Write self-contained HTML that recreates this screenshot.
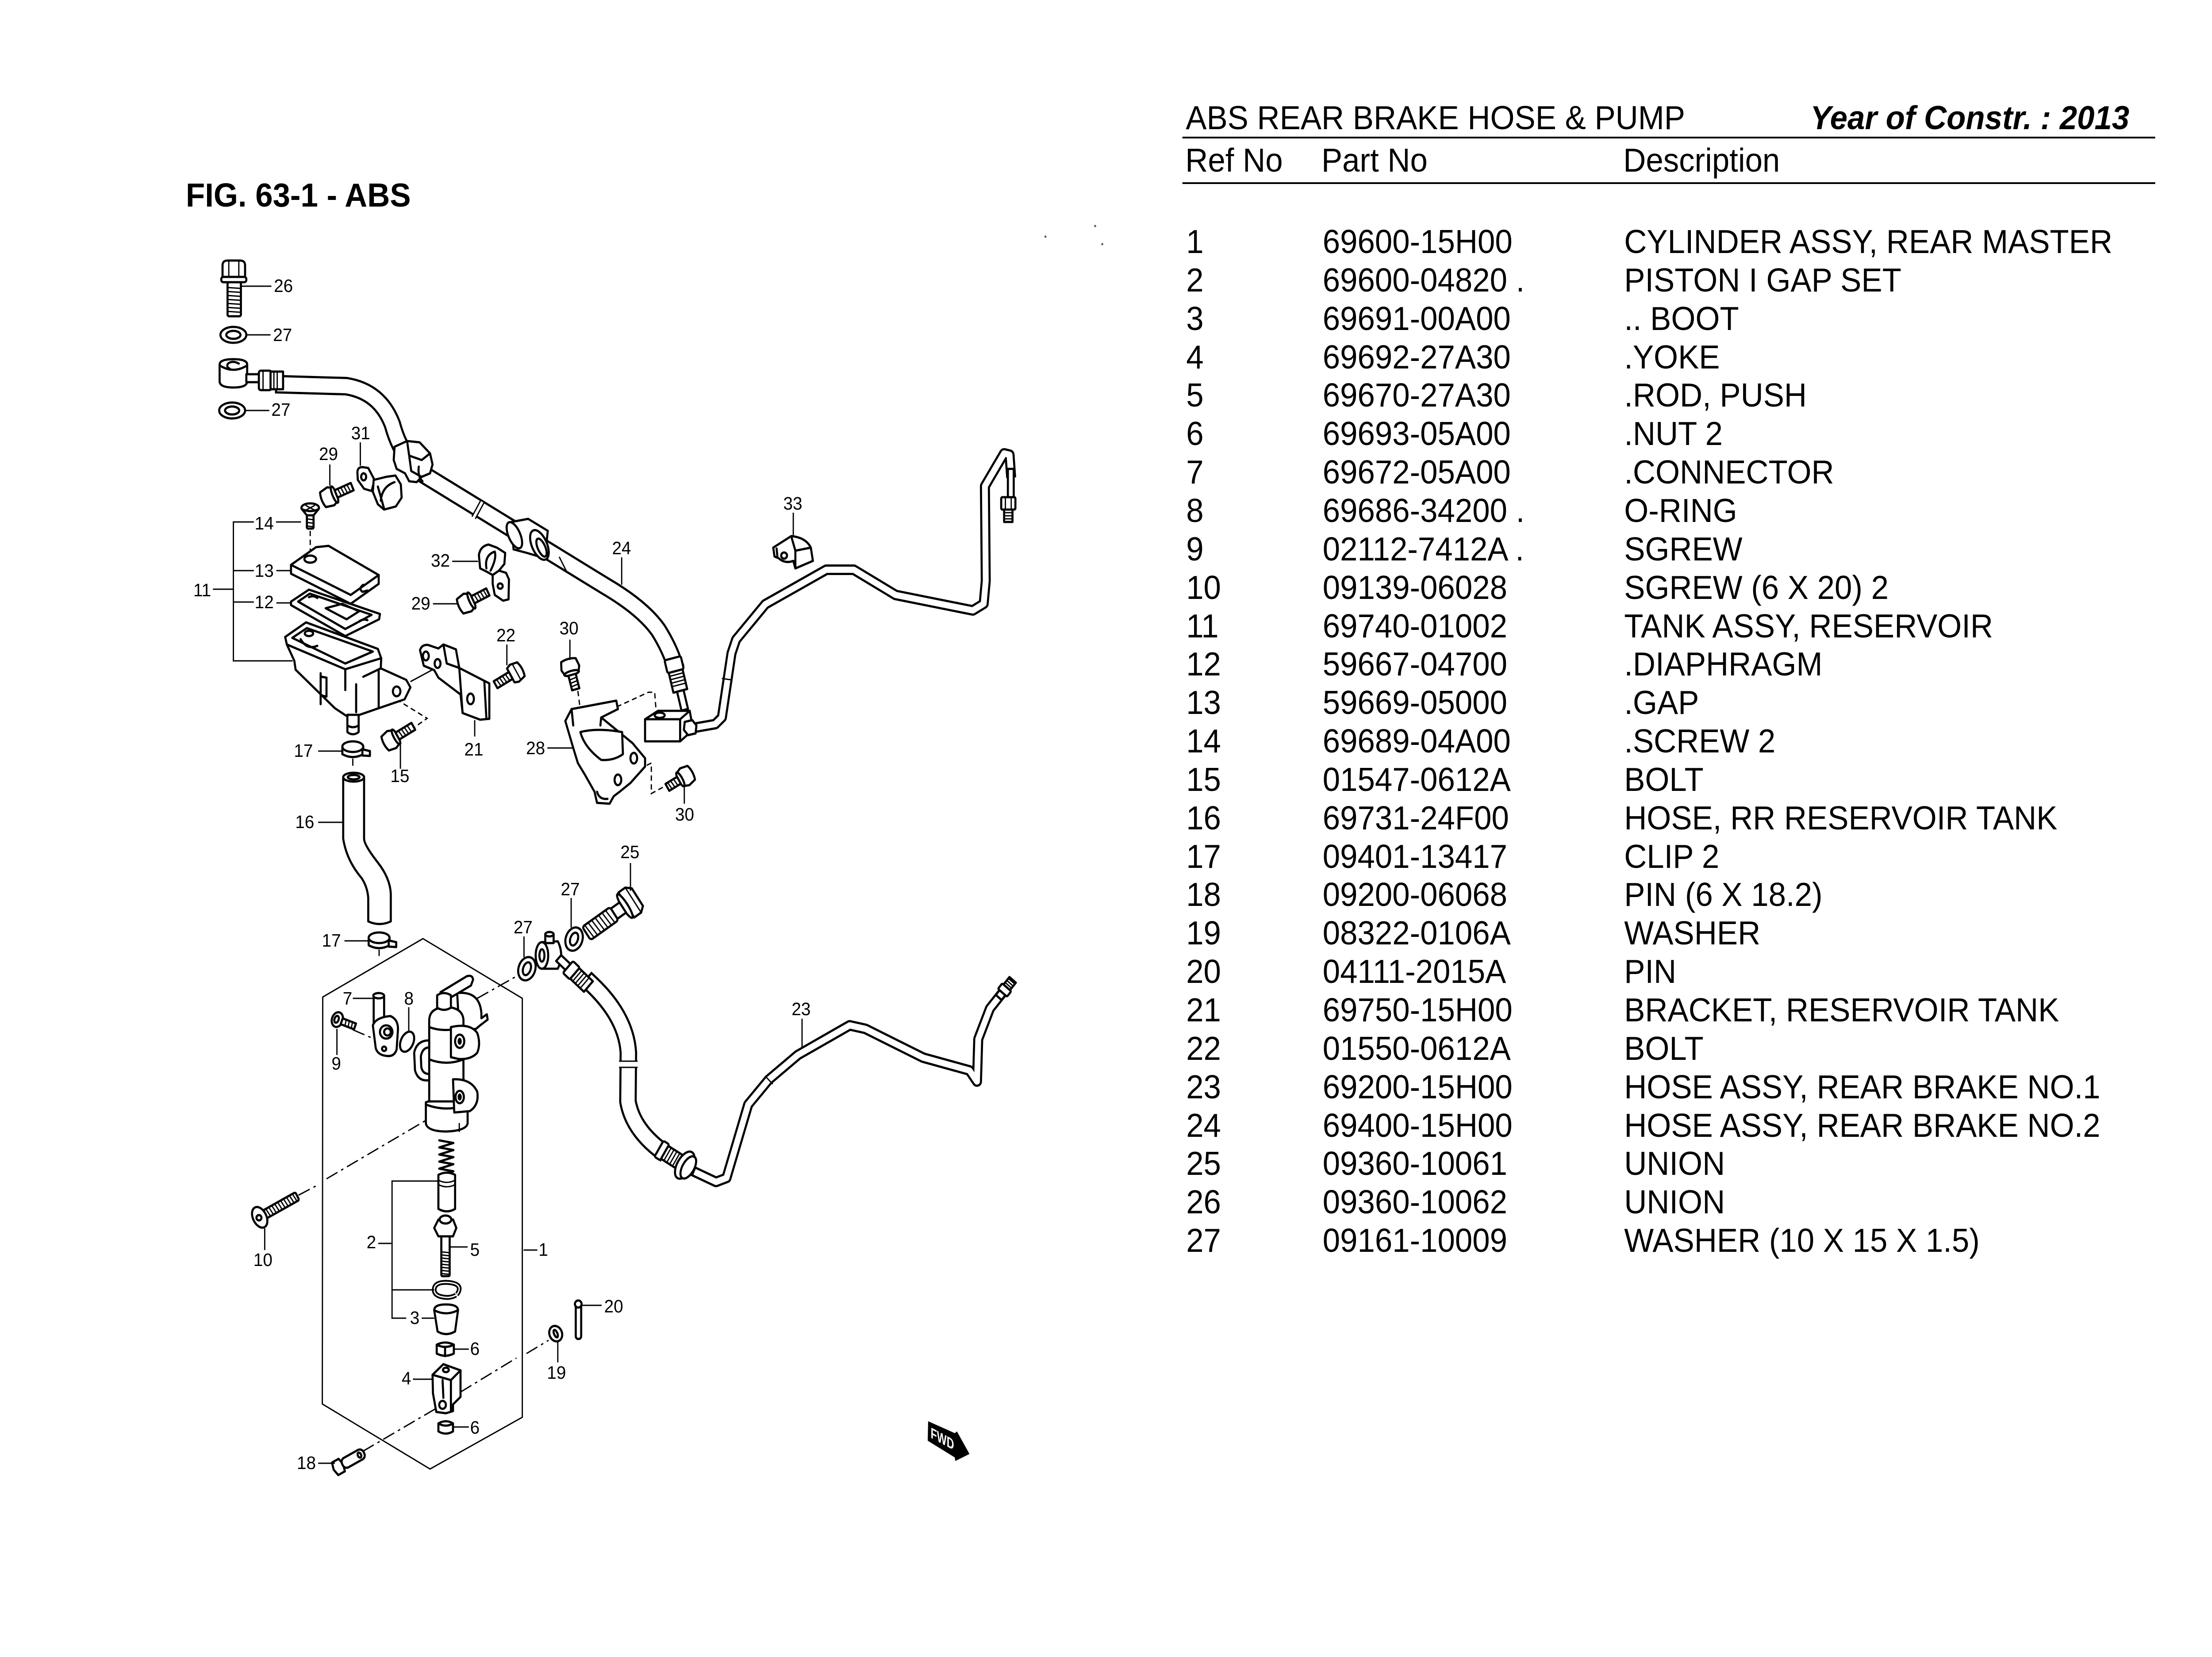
<!DOCTYPE html>
<html><head><meta charset="utf-8">
<style>
html,body{margin:0;padding:0;width:100%;height:100%;overflow:hidden;background:#fff;}
svg{position:absolute;left:0;top:0;width:100vw;height:100vh;display:block;}
.o{fill:#fff;stroke:#000;stroke-width:5;stroke-linejoin:round;stroke-linecap:round}
.n{fill:none;stroke:#000;stroke-width:5;stroke-linejoin:round;stroke-linecap:round}
.t3{fill:none;stroke:#000;stroke-width:3;stroke-linecap:round}
.l{fill:none;stroke:#000;stroke-width:3}
.dd{fill:none;stroke:#000;stroke-width:3;stroke-dasharray:30 10 6 10}
.ds{fill:none;stroke:#000;stroke-width:3;stroke-dasharray:12 8}
.lb{font-family:"Liberation Sans",Arial,sans-serif;font-size:41px;fill:#000}
.tb{font-family:"Liberation Sans",Arial,sans-serif;font-size:75px;fill:#000}
</style></head><body>
<svg viewBox="0 0 5298 3746" preserveAspectRatio="none" xmlns="http://www.w3.org/2000/svg">
<rect x="0" y="0" width="5298" height="3746" fill="#fff"/>

<!-- ===== TABLE ===== -->
<text class="tb" x="2840" y="292">ABS REAR BRAKE HOSE &amp; PUMP</text>
<text class="tb" x="5100" y="292" text-anchor="end" font-weight="bold" font-style="italic">Year of Constr. : 2013</text>
<rect x="2832" y="309" width="2330" height="4" fill="#000"/>
<text class="tb" x="2839" y="388">Ref No</text>
<text class="tb" x="3165" y="388">Part No</text>
<text class="tb" x="3888" y="388">Description</text>
<rect x="2832" y="412" width="2330" height="4" fill="#000"/>

<g>
<text class="tb" x="2841" y="572">1</text><text class="tb" x="3168" y="572">69600-15H00</text><text class="tb" x="3890" y="572">CYLINDER ASSY, REAR MASTER</text>
<text class="tb" x="2841" y="659">2</text><text class="tb" x="3168" y="659">69600-04820 .</text><text class="tb" x="3890" y="659">PISTON I GAP SET</text>
<text class="tb" x="2841" y="746">3</text><text class="tb" x="3168" y="746">69691-00A00</text><text class="tb" x="3890" y="746">.. BOOT</text>
<text class="tb" x="2841" y="833">4</text><text class="tb" x="3168" y="833">69692-27A30</text><text class="tb" x="3890" y="833">.YOKE</text>
<text class="tb" x="2841" y="919">5</text><text class="tb" x="3168" y="919">69670-27A30</text><text class="tb" x="3890" y="919">.ROD, PUSH</text>
<text class="tb" x="2841" y="1006">6</text><text class="tb" x="3168" y="1006">69693-05A00</text><text class="tb" x="3890" y="1006">.NUT 2</text>
<text class="tb" x="2841" y="1093">7</text><text class="tb" x="3168" y="1093">69672-05A00</text><text class="tb" x="3890" y="1093">.CONNECTOR</text>
<text class="tb" x="2841" y="1180">8</text><text class="tb" x="3168" y="1180">69686-34200 .</text><text class="tb" x="3890" y="1180">O-RING</text>
<text class="tb" x="2841" y="1267">9</text><text class="tb" x="3168" y="1267">02112-7412A .</text><text class="tb" x="3890" y="1267">SGREW</text>
<text class="tb" x="2841" y="1354">10</text><text class="tb" x="3168" y="1354">09139-06028</text><text class="tb" x="3890" y="1354">SGREW (6 X 20) 2</text>
<text class="tb" x="2841" y="1441">11</text><text class="tb" x="3168" y="1441">69740-01002</text><text class="tb" x="3890" y="1441">TANK ASSY, RESERVOIR</text>
<text class="tb" x="2841" y="1527">12</text><text class="tb" x="3168" y="1527">59667-04700</text><text class="tb" x="3890" y="1527">.DIAPHRAGM</text>
<text class="tb" x="2841" y="1614">13</text><text class="tb" x="3168" y="1614">59669-05000</text><text class="tb" x="3890" y="1614">.GAP</text>
<text class="tb" x="2841" y="1701">14</text><text class="tb" x="3168" y="1701">69689-04A00</text><text class="tb" x="3890" y="1701">.SCREW 2</text>
<text class="tb" x="2841" y="1788">15</text><text class="tb" x="3168" y="1788">01547-0612A</text><text class="tb" x="3890" y="1788">BOLT</text>
<text class="tb" x="2841" y="1875">16</text><text class="tb" x="3168" y="1875">69731-24F00</text><text class="tb" x="3890" y="1875">HOSE, RR RESERVOIR TANK</text>
<text class="tb" x="2841" y="1962">17</text><text class="tb" x="3168" y="1962">09401-13417</text><text class="tb" x="3890" y="1962">CLIP 2</text>
<text class="tb" x="2841" y="2048">18</text><text class="tb" x="3168" y="2048">09200-06068</text><text class="tb" x="3890" y="2048">PIN (6 X 18.2)</text>
<text class="tb" x="2841" y="2135">19</text><text class="tb" x="3168" y="2135">08322-0106A</text><text class="tb" x="3890" y="2135">WASHER</text>
<text class="tb" x="2841" y="2222">20</text><text class="tb" x="3168" y="2222">04111-2015A</text><text class="tb" x="3890" y="2222">PIN</text>
<text class="tb" x="2841" y="2309">21</text><text class="tb" x="3168" y="2309">69750-15H00</text><text class="tb" x="3890" y="2309">BRACKET, RESERVOIR TANK</text>
<text class="tb" x="2841" y="2396">22</text><text class="tb" x="3168" y="2396">01550-0612A</text><text class="tb" x="3890" y="2396">BOLT</text>
<text class="tb" x="2841" y="2483">23</text><text class="tb" x="3168" y="2483">69200-15H00</text><text class="tb" x="3890" y="2483">HOSE ASSY, REAR BRAKE NO.1</text>
<text class="tb" x="2841" y="2570">24</text><text class="tb" x="3168" y="2570">69400-15H00</text><text class="tb" x="3890" y="2570">HOSE ASSY, REAR BRAKE NO.2</text>
<text class="tb" x="2841" y="2656">25</text><text class="tb" x="3168" y="2656">09360-10061</text><text class="tb" x="3890" y="2656">UNION</text>
<text class="tb" x="2841" y="2743">26</text><text class="tb" x="3168" y="2743">09360-10062</text><text class="tb" x="3890" y="2743">UNION</text>
<text class="tb" x="2841" y="2830">27</text><text class="tb" x="3168" y="2830">09161-10009</text><text class="tb" x="3890" y="2830">WASHER (10 X 15 X 1.5)</text>
</g>

<!-- ===== FIG TITLE ===== -->
<text class="tb" x="445" y="467" font-weight="bold">FIG. 63-1 - ABS</text>

<!-- noise dots -->
<circle cx="2504" cy="535" r="2.5" fill="#555"/>
<circle cx="2623" cy="511" r="2.5" fill="#555"/>
<circle cx="2640" cy="552" r="2.5" fill="#555"/>

<!-- ===== CYLINDER BOX ===== -->
<path class="l" d="M1013,2122 L1251,2257 L1251,3204 L1030,3321 L772,3174 L773,2254 Z"/>

<!-- ===== DASHED LINES ===== -->
<path class="dd" d="M1143,2257 L1237,2207"/>
<path class="dd" d="M845,2328 L902,2351"/>
<path class="dd" d="M715,2702 L765,2677 M782,2665 L1090,2494"/>
<path class="dd" d="M869,3281 L1050,3181"/>
<path class="dd" d="M1103,3147 L1237,3070 M1261,3060 L1314,3030"/>
<path class="ds" d="M932,1571 L1023,1624 L993,1644"/>
<path class="ds" d="M743,1200 L743,1257"/>
<path class="ds" d="M1384,1562 L1392,1620"/>
<path class="ds" d="M1361,1622 L1415,1622"/>
<path class="ds" d="M1422,1622 L1553,1565 L1568,1565 L1572,1614"/>
<path class="ds" d="M1495,1756 L1560,1725 L1560,1794 L1597,1775"/>

<!-- ===== HOSES / PIPES ===== -->
<path d="M680,869 L829,873 Q910,885 940,960 Q960,1030 1010,1070 L1450,1325 Q1540,1375 1577,1425 Q1600,1460 1612,1492" fill="none" stroke="#000" stroke-width="42" stroke-linejoin="round" stroke-linecap="square"/>
<path d="M680,869 L829,873 Q910,885 940,960 Q960,1030 1010,1070 L1450,1325 Q1540,1375 1577,1425 Q1600,1460 1612,1492" fill="none" stroke="#fff" stroke-width="32" stroke-linejoin="round" stroke-linecap="square"/>
<path d="M1131,1167 L1151,1132 L1159,1137 L1139,1172 Z" fill="#fff" stroke="none"/>
<path class="t3" d="M1131,1167 L1151,1132 M1139,1172 L1159,1137"/>
<path class="t3" d="M1340,1260 L1356,1290"/>

<path d="M1665,1645 L1713,1637 L1729,1622 L1752,1477 L1763,1446 L1833,1366 L1979,1288 L2045,1288 L2145,1345 L2330,1380 L2356,1365 L2361,1313 L2359,1099 L2405,1025 L2418,1028 L2421,1068" fill="none" stroke="#000" stroke-width="24" stroke-linejoin="round" stroke-linecap="square"/>
<path d="M1665,1645 L1713,1637 L1729,1622 L1752,1477 L1763,1446 L1833,1366 L1979,1288 L2045,1288 L2145,1345 L2330,1380 L2356,1365 L2361,1313 L2359,1099 L2405,1025 L2418,1028 L2421,1068" fill="none" stroke="#fff" stroke-width="14" stroke-linejoin="round" stroke-linecap="square"/>
<path class="t3" d="M1730,1534 L1752,1537"/>

<path d="M1418,2226 Q1500,2300 1505,2380 L1504,2490 Q1515,2550 1578,2597" fill="none" stroke="#000" stroke-width="42" stroke-linejoin="round" stroke-linecap="square"/>
<path d="M1418,2226 Q1500,2300 1505,2380 L1504,2490 Q1515,2550 1578,2597" fill="none" stroke="#fff" stroke-width="32" stroke-linejoin="round" stroke-linecap="square"/>
<rect x="1480" y="2400" width="50" height="12" fill="#fff"/>
<path class="t3" d="M1484,2399 L1526,2399 M1484,2413 L1526,2413"/>

<path d="M1670,2652 L1715,2672 L1740,2663 L1792,2497 L1841,2441 L1911,2385 L2035,2318 L2073,2326 L2211,2391 L2322,2420 L2340,2445 L2343,2349 L2371,2280 L2392,2255" fill="none" stroke="#000" stroke-width="24" stroke-linejoin="round" stroke-linecap="square"/>
<path d="M1670,2652 L1715,2672 L1740,2663 L1792,2497 L1841,2441 L1911,2385 L2035,2318 L2073,2326 L2211,2391 L2322,2420 L2340,2445 L2343,2349 L2371,2280 L2392,2255" fill="none" stroke="#fff" stroke-width="14" stroke-linejoin="round" stroke-linecap="square"/>
<path class="t3" d="M1834,2434 L1850,2450"/>

<!-- ===== PARTS TOP ===== -->
<path class="o" d="M533,600 Q533,589 545,589 L575,589 Q587,589 587,600 L587,628 L533,628 Z"/>
<path class="t3" d="M548,591 L548,627 M572,591 L572,627"/>
<rect class="o" x="530" y="626" width="60" height="12" rx="5"/>
<rect class="o" x="545" y="638" width="32" height="77" rx="4"/>
<path class="t3" d="M545,650 L577,652 M545,659 L577,661 M545,668 L577,670 M545,677 L577,679 M545,686 L577,688 M545,695 L577,697 M545,704 L577,706"/>
<ellipse class="o" cx="559" cy="757" rx="31" ry="18"/><ellipse class="n" cx="559" cy="757" rx="17" ry="9"/>
<ellipse class="o" cx="556" cy="928" rx="31" ry="18"/><ellipse class="n" cx="556" cy="928" rx="17" ry="9"/>
<path class="o" d="M526,824 Q526,812 559,812 Q592,812 592,824 L592,862 Q592,876 559,876 Q526,876 526,862 Z"/>
<path class="n" d="M526,826 Q559,846 592,826"/>
<path class="n" d="M572,822 Q557,814 546,822 Q541,830 551,834"/>
<rect class="o" x="590" y="846" width="32" height="18"/>
<rect class="o" x="620" y="838" width="30" height="44" rx="5"/>
<rect class="o" x="648" y="840" width="30" height="40"/>
<path class="t3" d="M656,840 L656,880 M664,840 L664,880 M630,840 L630,880"/>

<path class="o" d="M945,1010 L975,997 L1005,1000 L1030,1025 L1036,1050 L1030,1070 L1010,1078 L998,1090 L980,1088 L970,1070 L950,1060 L943,1040 Z"/>
<path class="n" d="M975,997 L980,1030 L1010,1040 L1030,1025 M980,1030 L985,1065 L1010,1078"/>
<path class="n" d="M1003,1055 Q1000,1078 1012,1088"/>

<path class="o" d="M1225,1180 L1265,1173 L1312,1200 L1305,1262 L1262,1250 L1230,1242 Z"/>
<ellipse class="o" cx="1232" cy="1210" rx="14" ry="32" transform="rotate(-25 1232 1210)"/>
<ellipse class="o" cx="1292" cy="1232" rx="18" ry="36" transform="rotate(-25 1292 1232)"/>
<ellipse class="n" cx="1297" cy="1238" rx="9" ry="22" transform="rotate(-25 1297 1238)"/>

<path class="o" d="M856,1068 Q856,1056 868,1056 L882,1058 L897,1085 L890,1110 L872,1105 L857,1085 Z"/>
<ellipse class="n" cx="871" cy="1078" rx="6" ry="8"/>
<path class="o" d="M895,1085 L925,1078 L947,1075 L960,1095 L962,1125 L948,1145 L920,1152 L905,1140 L893,1112 Z"/>
<path class="n" d="M912,1132 Q915,1100 945,1090 M905,1100 L920,1150"/>

<g transform="translate(792,1122) rotate(-23)">
<path class="o" d="M-20,-18 L0,-22 L8,-18 L8,18 L0,22 L-20,18 Q-26,0 -20,-18 Z"/>
<ellipse class="o" cx="10" cy="0" rx="5" ry="20"/>
<rect class="o" x="14" y="-9" width="42" height="18"/>
<path class="t3" d="M22,-9 L24,9 M30,-9 L32,9 M38,-9 L40,9 M46,-9 L48,9"/>
</g>

<ellipse class="o" cx="743" cy="1148" rx="21" ry="10"/>
<path class="t3" d="M733,1143 L753,1153 M753,1143 L733,1153"/>
<path class="o" d="M723,1151 L735,1165 L751,1165 L763,1151 Q743,1160 723,1151 Z"/>
<rect class="o" x="735" y="1165" width="16" height="30" rx="3"/>
<path class="t3" d="M735,1173 L751,1175 M735,1181 L751,1183 M735,1189 L751,1191"/>

<path class="o" d="M1147,1255 Q1150,1235 1170,1231 L1190,1238 L1210,1250 L1208,1275 L1195,1290 L1212,1295 L1219,1310 L1218,1355 L1205,1358 L1185,1345 L1180,1320 L1180,1300 L1165,1292 L1150,1285 Z"/>
<path class="n" d="M1165,1285 Q1160,1255 1185,1247 Q1190,1262 1175,1290 M1180,1300 L1195,1290"/>
<circle class="n" cx="1198" cy="1325" r="6"/>

<g transform="translate(1120,1362) rotate(-26)">
<path class="o" d="M-20,-18 L0,-22 L8,-18 L8,18 L0,22 L-20,18 Q-26,0 -20,-18 Z"/>
<ellipse class="o" cx="10" cy="0" rx="5" ry="20"/>
<rect class="o" x="14" y="-9" width="40" height="18"/>
<path class="t3" d="M22,-9 L24,9 M30,-9 L32,9 M38,-9 L40,9 M46,-9 L48,9"/>
</g>

<path class="o" d="M1852,1238 L1895,1212 Q1930,1215 1942,1238 L1947,1268 L1905,1285 L1900,1268 Q1880,1275 1865,1262 L1855,1258 Z"/>
<path class="n" d="M1895,1212 L1905,1245 L1905,1285 M1905,1245 L1942,1238"/>
<circle class="n" cx="1878" cy="1256" r="7"/>
<path class="n" d="M1860,1240 L1862,1258"/>

<path class="o" d="M683,1440 L733,1407 L905,1467 L913,1488 L912,1511 L973,1537 L983,1554 L969,1581 L855,1618 L829,1618 L802,1601 L708,1514 L705,1494 L687,1457 Z"/>
<path class="n" d="M687,1457 L827,1513 L913,1488"/>
<path class="n" d="M700,1442 L735,1420 L893,1473 L827,1500 Z"/>
<path class="n" d="M768,1522 L768,1592 M853,1547 L853,1610 M907,1513 L907,1598 M827,1513 L827,1560 M912,1511 L870,1530"/>
<path class="n" d="M770,1530 L782,1532 L782,1575 L770,1572"/>
<ellipse class="n" cx="950" cy="1563" rx="9" ry="11"/>
<ellipse class="n" cx="740" cy="1432" rx="10" ry="6"/>
<path class="n" d="M720,1445 Q735,1470 760,1460"/>
<path class="o" d="M832,1616 L832,1655 Q845,1665 859,1655 L859,1616 Z"/>
<path class="n" d="M832,1640 Q845,1648 859,1640"/>
<path class="l" d="M983,1541 L1036,1514"/>

<path class="o" d="M697,1360 L740,1333 L910,1388 L908,1400 L827,1438 L697,1368 Z"/>
<path class="n" d="M714,1360 L742,1342 L890,1390 L827,1422 Z"/>
<path class="n" d="M780,1375 L820,1365 L860,1382 L830,1400 Z M740,1350 Q752,1345 760,1352 M860,1405 Q870,1398 880,1402"/>

<path class="o" d="M697,1277 L757,1237 L787,1234 L907,1300 L907,1320 L840,1365 L697,1297 Z"/>
<path class="n" d="M697,1277 L840,1345 L907,1300"/>
<ellipse class="n" cx="743" cy="1264" rx="14" ry="8"/>
<path class="n" d="M870,1322 Q858,1330 868,1338 L880,1335"/>

<path class="o" d="M1006,1470 Q1010,1457 1025,1458 L1050,1466 L1062,1457 L1092,1468 L1100,1510 L1172,1545 L1172,1625 L1150,1627 L1108,1612 L1103,1570 L1050,1532 L1040,1515 L1015,1505 Z"/>
<path class="n" d="M1062,1457 L1070,1500 L1100,1510 M1100,1510 L1108,1612 M1160,1540 L1165,1625"/>
<ellipse class="n" cx="1020" cy="1483" rx="7" ry="10"/>
<ellipse class="n" cx="1048" cy="1500" rx="7" ry="10"/>
<ellipse class="n" cx="1127" cy="1580" rx="8" ry="12"/>

<g transform="translate(1232,1522) rotate(150)">
<path class="o" d="M-18,-18 L0,-22 L10,-18 L10,18 L0,22 L-18,18 Q-24,0 -18,-18 Z"/>
<path class="t3" d="M-6,-20 L-6,20"/>
<rect class="o" x="10" y="-9" width="42" height="18"/>
<path class="t3" d="M18,-9 L20,9 M26,-9 L28,9 M34,-9 L36,9 M42,-9 L44,9"/>
</g>

<g transform="translate(938,1672) rotate(-30)">
<path class="o" d="M-18,-18 L0,-22 L10,-18 L10,18 L0,22 L-18,18 Q-24,0 -18,-18 Z"/>
<ellipse class="o" cx="12" cy="0" rx="5" ry="19"/>
<rect class="o" x="16" y="-9" width="44" height="18"/>
<path class="t3" d="M24,-9 L26,9 M32,-9 L34,9 M40,-9 L42,9 M48,-9 L50,9"/>
</g>

<path class="o" d="M1354,1630 L1369,1603 L1476,1584 L1480,1603 L1440,1622 L1515,1680 L1545,1714 L1545,1733 L1510,1770 L1484,1790 L1470,1800 L1460,1817 L1430,1815 L1424,1790 L1400,1750 L1384,1725 L1373,1691 Z"/>
<path class="o" d="M1390,1655 Q1430,1645 1490,1655 L1492,1705 Q1470,1720 1440,1718 Q1400,1690 1390,1655 Z"/>
<path class="n" d="M1369,1603 L1373,1640 M1440,1622 L1438,1640"/>
<ellipse class="n" cx="1518" cy="1714" rx="8" ry="12"/>
<ellipse class="n" cx="1480" cy="1763" rx="8" ry="12"/>
<path class="n" d="M1430,1790 Q1435,1808 1455,1806"/>

<g transform="translate(1366,1510) rotate(75)">
<path class="o" d="M-18,-18 L0,-22 L10,-18 L10,18 L0,22 L-18,18 Q-24,0 -18,-18 Z"/>
<ellipse class="o" cx="12" cy="0" rx="5" ry="18"/>
<rect class="o" x="16" y="-9" width="34" height="18"/>
<path class="t3" d="M24,-9 L26,9 M32,-9 L34,9 M40,-9 L42,9"/>
</g>

<g transform="translate(1640,1756) rotate(150)">
<path class="o" d="M-18,-18 L0,-22 L10,-18 L10,18 L0,22 L-18,18 Q-24,0 -18,-18 Z"/>
<ellipse class="o" cx="12" cy="0" rx="5" ry="18"/>
<rect class="o" x="16" y="-9" width="32" height="18"/>
<path class="t3" d="M24,-9 L26,9 M32,-9 L34,9 M40,-9 L42,9"/>
</g>

<path class="o" d="M1545,1626 L1576,1607 L1652,1607 L1660,1650 L1629,1676 L1545,1676 Z"/>
<path class="n" d="M1545,1626 L1629,1626 L1652,1607 M1629,1626 L1629,1676"/>
<ellipse class="n" cx="1580" cy="1617" rx="12" ry="6"/>
<path class="o" d="M1640,1632 L1658,1628 L1668,1640 L1666,1658 L1648,1662 L1638,1650 Z"/>

<g transform="translate(1612,1492) rotate(76)">
<rect class="o" x="-4" y="-20" width="30" height="40" rx="4"/>
<rect class="o" x="26" y="-17" width="46" height="34"/>
<path class="t3" d="M34,-17 L34,17 M42,-17 L42,17 M50,-17 L50,17 M58,-17 L58,17"/>
<rect class="o" x="72" y="-8" width="44" height="16"/>
</g>

<rect class="o" x="2414" y="1060" width="14" height="64"/>
<rect class="o" x="2398" y="1124" width="34" height="28" rx="3"/>
<path class="t3" d="M2408,1124 L2408,1152 M2422,1124 L2422,1152"/>
<rect class="o" x="2405" y="1152" width="20" height="28"/>
<path class="t3" d="M2405,1159 L2425,1159 M2405,1166 L2425,1166 M2405,1173 L2425,1173"/>

<path class="o" d="M820,1688 L820,1705 Q845,1718 870,1705 L870,1688 Z"/>
<ellipse class="o" cx="845" cy="1688" rx="25" ry="12"/>
<path class="o" d="M868,1694 L886,1698 L886,1709 L868,1708 Z"/>
<path class="t3" d="M845,1716 L845,1730"/>

<path class="o" d="M822,1757 L822,1896 Q830,1945 866,1985 Q880,2005 882,2030 L882,2083 Q909,2095 936,2083 L936,2020 Q934,1985 905,1950 Q872,1910 872,1896 L872,1757 Z"/>
<ellipse class="o" cx="847" cy="1757" rx="25" ry="10"/>
<ellipse class="n" cx="847" cy="1757" rx="14" ry="5"/>

<path class="o" d="M883,2120 L883,2137 Q908,2150 933,2137 L933,2120 Z"/>
<ellipse class="o" cx="908" cy="2120" rx="25" ry="12"/>
<path class="o" d="M931,2126 L949,2130 L949,2141 L931,2140 Z"/>
<path class="t3" d="M908,2148 L908,2160"/>

<path class="o" d="M1298,2130 L1336,2128 Q1352,2158 1336,2190 L1298,2190 Z"/>
<ellipse class="o" cx="1298" cy="2160" rx="15" ry="30"/>
<ellipse class="n" cx="1298" cy="2160" rx="6" ry="14"/>
<path class="o" d="M1306,2112 L1306,2132 L1326,2132 L1326,2112 Z"/>
<ellipse class="o" cx="1316" cy="2112" rx="10" ry="5"/>
<g transform="translate(1338,2166) rotate(42)">
<rect class="o" x="0" y="-9" width="32" height="18"/>
<rect class="o" x="30" y="-18" width="22" height="36" rx="4"/>
<rect class="o" x="52" y="-16" width="44" height="32"/>
<path class="t3" d="M60,-16 L60,16 M68,-16 L68,16 M76,-16 L76,16 M84,-16 L84,16"/>
</g>
<ellipse class="o" cx="1262" cy="2190" rx="20" ry="27" transform="rotate(20 1262 2190)"/>
<ellipse class="n" cx="1262" cy="2190" rx="9" ry="15" transform="rotate(20 1262 2190)"/>
<ellipse class="o" cx="1375" cy="2123" rx="20" ry="27" transform="rotate(20 1375 2123)"/>
<ellipse class="n" cx="1375" cy="2123" rx="9" ry="15" transform="rotate(20 1375 2123)"/>
<g transform="translate(1500,2046) rotate(146)">
<path class="o" d="M-32,-24 L-20,-34 L0,-34 L0,34 L-20,34 L-32,24 Z"/>
<path class="t3" d="M-20,-34 L-20,34"/>
<ellipse class="o" cx="4" cy="0" rx="7" ry="32"/>
<rect class="o" x="10" y="-14" width="26" height="28"/>
<rect class="o" x="35" y="-18" width="80" height="36" rx="6"/>
<path class="t3" d="M45,-18 L48,18 M55,-18 L58,18 M65,-18 L68,18 M75,-18 L78,18 M85,-18 L88,18 M95,-18 L98,18 M105,-18 L108,18"/>
</g>

<g transform="translate(1580,2598) rotate(31)">
<rect class="o" x="-2" y="-21" width="16" height="42" rx="4"/>
<rect class="o" x="14" y="-17" width="40" height="34"/>
<path class="t3" d="M22,-17 L22,17 M30,-17 L30,17 M38,-17 L38,17 M46,-17 L46,17"/>
<ellipse class="o" cx="70" cy="0" rx="18" ry="34"/>
<ellipse class="o" cx="80" cy="0" rx="14" ry="28"/>
</g>

<g transform="translate(2392,2255) rotate(-50)">
<rect class="o" x="0" y="-9" width="14" height="18"/>
<rect class="o" x="14" y="-14" width="16" height="28" rx="3"/>
<rect class="o" x="30" y="-10" width="22" height="20"/>
<path class="t3" d="M36,-10 L36,10 M42,-10 L42,10 M48,-10 L48,10"/>
</g>

<!-- ===== MASTER CYLINDER ===== -->
<path class="o" d="M1095,2245 Q1150,2240 1153,2292 L1153,2302 L1166,2293 L1168,2305 L1150,2318 L1140,2326 L1100,2330 Z"/>
<path class="o" d="M1055,2243 L1118,2207 Q1132,2203 1133,2215 L1128,2228 L1078,2256 Z"/>
<path class="o" d="M1020,2492 L1020,2540 Q1024,2558 1070,2558 Q1116,2556 1120,2540 L1120,2492 Q1070,2475 1020,2492 Z"/>
<path class="n" d="M1020,2497 Q1070,2515 1120,2497"/>
<path class="t3" d="M1100,2540 L1100,2558"/>
<path class="o" d="M1028,2490 L1028,2305 Q1030,2280 1060,2278 L1082,2278 Q1108,2283 1110,2305 L1110,2490 Z"/>
<path class="n" d="M1028,2322 Q1069,2336 1110,2320 M1028,2395 Q1069,2410 1110,2395"/>
<path class="o" d="M1047,2250 Q1063,2240 1080,2250 L1080,2278 Q1063,2288 1047,2278 Z"/>
<path class="o" d="M1080,2322 Q1125,2312 1143,2335 Q1152,2360 1143,2380 Q1128,2396 1098,2394 L1080,2390 Z"/>
<ellipse class="o" cx="1101" cy="2354" rx="11" ry="15"/>
<ellipse cx="1101" cy="2354" rx="5" ry="8" fill="#000"/>
<path class="o" d="M1028,2352 Q998,2352 992,2380 L994,2420 Q1002,2446 1028,2442 L1028,2428 Q1012,2428 1009,2412 L1008,2388 Q1012,2368 1028,2368 Z"/>
<path class="o" d="M1085,2440 Q1128,2438 1143,2468 Q1148,2498 1125,2512 L1088,2515 Z"/>
<ellipse class="o" cx="1101" cy="2480" rx="10" ry="14"/>
<ellipse cx="1101" cy="2480" rx="5" ry="8" fill="#000"/>

<path class="o" d="M895,2252 L895,2322 L920,2322 L920,2252 Z"/>
<ellipse class="o" cx="907" cy="2251" rx="13" ry="6"/>
<path class="o" d="M893,2318 Q900,2300 935,2297 Q955,2305 953,2330 L950,2372 Q945,2390 925,2387 Q905,2385 900,2370 Z"/>
<circle class="o" cx="925" cy="2333" r="15"/>
<circle class="n" cx="928" cy="2333" r="8"/>
<circle class="n" cx="920" cy="2371" r="5"/>

<ellipse class="n" cx="975" cy="2355" rx="15" ry="24" transform="rotate(25 975 2355)"/>

<g transform="translate(808,2305) rotate(20)">
<ellipse class="o" cx="0" cy="0" rx="13" ry="17"/>
<ellipse class="n" cx="-2" cy="0" rx="5" ry="8"/>
<rect class="o" x="11" y="-7" width="34" height="14"/>
<path class="t3" d="M20,-7 L22,7 M28,-7 L30,7 M36,-7 L38,7"/>
</g>

<path class="n" d="M1052,2578 L1086,2584 L1052,2594 L1086,2600 L1052,2610 L1086,2616 L1052,2626 L1086,2632 L1052,2642 L1086,2648 L1052,2656"/>
<path class="o" d="M1050,2656 L1050,2733 Q1070,2744 1090,2733 L1090,2656 Q1070,2646 1050,2656 Z"/>
<path class="t3" d="M1050,2668 Q1070,2678 1090,2668 M1050,2678 Q1070,2688 1090,2678"/>

<path class="o" d="M1040,2776 L1050,2757 L1085,2757 L1093,2776 L1085,2795 L1050,2795 Z"/>
<ellipse class="o" cx="1067" cy="2757" rx="14" ry="9"/>
<rect class="o" x="1057" y="2795" width="20" height="90" rx="3"/>
<path class="t3" d="M1057,2830 L1077,2832 M1057,2837 L1077,2839 M1057,2844 L1077,2846 M1057,2851 L1077,2853 M1057,2858 L1077,2860 M1057,2865 L1077,2867 M1057,2872 L1077,2874 M1057,2879 L1077,2881"/>

<path d="M1092,2928 Q1080,2934 1068,2933 Q1040,2931 1040,2916 Q1040,2899 1068,2899 Q1100,2900 1100,2914 Q1099,2922 1094,2926" fill="none" stroke="#000" stroke-width="11"/>
<path d="M1092,2928 Q1080,2934 1068,2933 Q1040,2931 1040,2916 Q1040,2899 1068,2899 Q1100,2900 1100,2914 Q1099,2922 1094,2926" fill="none" stroke="#fff" stroke-width="3"/>

<path class="o" d="M1040,2962 Q1040,2949 1068,2949 Q1097,2949 1097,2962 L1090,3010 Q1068,3022 1048,3010 Z"/>
<path class="n" d="M1040,2962 Q1068,2976 1097,2962"/>

<path class="o" d="M1046,3040 L1046,3060 Q1066,3070 1087,3060 L1087,3040 Q1066,3030 1046,3040 Z"/>
<path class="n" d="M1046,3040 Q1066,3050 1087,3040 M1066,3046 L1066,3066"/>

<path class="o" d="M1036,3108 L1062,3084 L1103,3098 L1103,3158 L1085,3175 L1085,3190 L1068,3195 L1045,3192 L1037,3150 Z"/>
<path class="n" d="M1036,3108 L1080,3120 L1103,3098 M1080,3120 L1080,3190 M1060,3120 L1062,3160"/>
<ellipse class="n" cx="1068" cy="3097" rx="7" ry="5"/>
<ellipse class="n" cx="1060" cy="3176" rx="8" ry="9"/>

<path class="o" d="M1050,3218 L1050,3236 Q1068,3246 1085,3236 L1085,3218 Q1068,3208 1050,3218 Z"/>
<path class="n" d="M1050,3218 Q1068,3228 1085,3218"/>

<g transform="translate(815,3314) rotate(-28)">
<path class="o" d="M-14,-16 L4,-16 L8,0 L4,16 L-14,16 L-18,0 Z"/>
<rect class="o" x="6" y="-12" width="58" height="24" rx="10"/>
<ellipse class="n" cx="52" cy="0" rx="4" ry="6"/>
</g>

<ellipse class="o" cx="1331" cy="3015" rx="15" ry="18" transform="rotate(-25 1331 3015)"/>
<ellipse class="n" cx="1331" cy="3015" rx="4" ry="9" transform="rotate(-25 1331 3015)"/>

<rect class="o" x="1379" y="2945" width="13" height="82" rx="6"/>
<circle class="o" cx="1385" cy="2948" r="8"/>

<g transform="translate(622,2752) rotate(-28)">
<rect class="o" x="12" y="-10" width="90" height="20" rx="4"/>
<path class="t3" d="M22,-10 L24,10 M30,-10 L32,10 M38,-10 L40,10 M46,-10 L48,10 M54,-10 L56,10 M62,-10 L64,10 M70,-10 L72,10 M78,-10 L80,10 M86,-10 L88,10 M94,-10 L96,10"/>
<ellipse class="o" cx="0" cy="0" rx="16" ry="25"/>
<circle class="n" cx="-2" cy="0" r="6"/>
</g>

<!-- ===== LEADERS ===== -->
<path class="l" d="M578,647 L650,647 M591,757 L648,757 M588,928 L645,928 M863,1000 L863,1053 M790,1050 L790,1098"/>
<path class="l" d="M608,1180 L559,1180 L559,1494 L701,1494 M559,1290 L608,1290 M559,1361 L608,1361 M510,1332 L559,1332"/>
<path class="l" d="M661,1180 L721,1180 M662,1290 L697,1290 M662,1363 L697,1363"/>
<path class="l" d="M1083,1269 L1145,1269 M1037,1365 L1098,1365 M1900,1159 L1900,1211 M1489,1260 L1489,1322"/>
<path class="l" d="M1214,1457 L1214,1504 M1365,1446 L1365,1492 M1311,1691 L1371,1691 M1137,1628 L1137,1665 M959,1684 L959,1738"/>
<path class="l" d="M762,1698 L819,1698 M762,1859 L822,1859 M1639,1772 L1639,1817 M1510,1951 L1510,2014 M1368,2030 L1368,2097 M1255,2117 L1255,2164 M825,2127 L882,2127"/>
<path class="l" d="M845,2257 L895,2257 M979,2277 L979,2330 M807,2326 L807,2385 M1921,2303 L1921,2368"/>
<path class="l" d="M1050,2670 L939,2670 L939,2980 L973,2980 M939,2916 L1040,2916 M906,2811 L939,2811"/>
<path class="l" d="M1076,2819 L1120,2819 M1254,2826 L1287,2826 M634,2777 L634,2826 M1393,2951 L1441,2951 M1010,2980 L1040,2980"/>
<path class="l" d="M1087,3050 L1123,3050 M1336,3033 L1336,3080 M989,3118 L1036,3118 M1085,3226 L1123,3226 M762,3308 L802,3308"/>

<!-- ===== LABELS ===== -->
<text class="lb" x="656" y="660">26</text>
<text class="lb" x="654" y="771">27</text>
<text class="lb" x="650" y="940">27</text>
<text class="lb" x="841" y="993">31</text>
<text class="lb" x="764" y="1040">29</text>
<text class="lb" x="610" y="1197">14</text>
<text class="lb" x="610" y="1304">13</text>
<text class="lb" x="463" y="1348">11</text>
<text class="lb" x="610" y="1375">12</text>
<text class="lb" x="1032" y="1281">32</text>
<text class="lb" x="985" y="1378">29</text>
<text class="lb" x="1876" y="1152">33</text>
<text class="lb" x="1466" y="1253">24</text>
<text class="lb" x="1189" y="1450">22</text>
<text class="lb" x="1340" y="1434">30</text>
<text class="lb" x="1260" y="1705">28</text>
<text class="lb" x="1112" y="1708">21</text>
<text class="lb" x="935" y="1768">15</text>
<text class="lb" x="704" y="1711">17</text>
<text class="lb" x="707" y="1872">16</text>
<text class="lb" x="1617" y="1855">30</text>
<text class="lb" x="1486" y="1940">25</text>
<text class="lb" x="1343" y="2024">27</text>
<text class="lb" x="1230" y="2110">27</text>
<text class="lb" x="771" y="2140">17</text>
<text class="lb" x="821" y="2271">7</text>
<text class="lb" x="968" y="2271">8</text>
<text class="lb" x="794" y="2418">9</text>
<text class="lb" x="1896" y="2295">23</text>
<text class="lb" x="878" y="2822">2</text>
<text class="lb" x="1126" y="2839">5</text>
<text class="lb" x="1290" y="2839">1</text>
<text class="lb" x="607" y="2862">10</text>
<text class="lb" x="1447" y="2967">20</text>
<text class="lb" x="982" y="2993">3</text>
<text class="lb" x="1126" y="3063">6</text>
<text class="lb" x="1310" y="3117">19</text>
<text class="lb" x="962" y="3130">4</text>
<text class="lb" x="1126" y="3241">6</text>
<text class="lb" x="711" y="3321">18</text>

<!-- ===== FWD ===== -->
<path d="M2223,3213 L2287,3240 L2292,3236 L2322,3287 L2288,3303 L2287,3295 L2222,3257 Z" fill="#000"/>
<text transform="translate(2229,3250) skewY(27)" font-family="Liberation Sans, Arial, sans-serif" font-weight="bold" font-size="34" fill="#fff" textLength="56" lengthAdjust="spacingAndGlyphs">FWD</text>
</svg>
</body></html>
